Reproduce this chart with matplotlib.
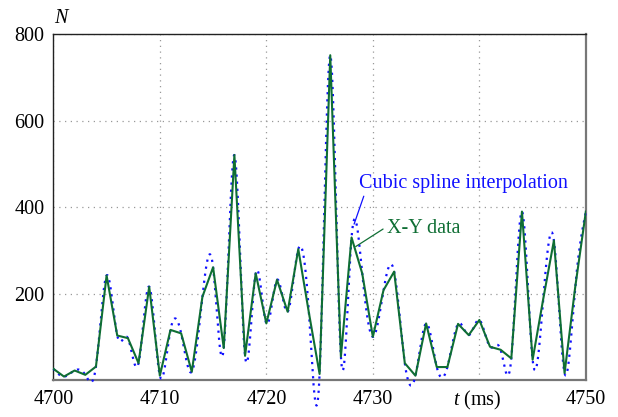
import matplotlib
matplotlib.use('Agg')
import matplotlib.pyplot as plt
import numpy as np

# sample times (ms) and counts N
t_ms = np.arange(4700, 4751)
counts = np.array([
    26, 8, 22, 12, 31, 242, 103, 97, 39, 216,
    10, 116, 108, 19, 193, 261, 74, 521, 56, 247,
    131, 232, 158, 303, 155, 14, 752, 54, 330, 247,
    100, 208, 251, 39, 10, 131, 30, 30, 130, 104,
    139, 77, 70, 50, 390, 47, 188, 323, 16, 215,
    390], dtype=float)

x_ticks = [4700, 4710, 4720, 4730, 4740, 4750]
# the 4740 slot is taken by the axis title in the original
x_labels = ['4700', '4710', '4720', '4730', '', '4750']
y_ticks = [200, 400, 600, 800]

green = '#0f6e34'
blue = '#1010ff'
fs = 14.5


def natural_spline(x, y, xs):
    # plain natural cubic spline, solved as a small linear system
    n = len(x)
    h = np.diff(x)
    A = np.zeros((n, n))
    r = np.zeros(n)
    A[0, 0] = A[-1, -1] = 1
    for i in range(1, n - 1):
        A[i, i - 1] = h[i - 1]
        A[i, i] = 2 * (h[i - 1] + h[i])
        A[i, i + 1] = h[i]
        r[i] = 3 * ((y[i + 1] - y[i]) / h[i] - (y[i] - y[i - 1]) / h[i - 1])
    c = np.linalg.solve(A, r)
    b = (y[1:] - y[:-1]) / h - h * (2 * c[:-1] + c[1:]) / 3
    d = (c[1:] - c[:-1]) / (3 * h)
    idx = np.clip(np.searchsorted(x, xs) - 1, 0, n - 2)
    dx = xs - x[idx]
    return y[idx] + b[idx] * dx + c[idx] * dx ** 2 + d[idx] * dx ** 3


plt.rcParams['font.family'] = ['Liberation Serif', 'DejaVu Serif']
plt.rcParams['mathtext.fontset'] = 'custom'
plt.rcParams['mathtext.it'] = 'Liberation Serif:italic'

fig = plt.figure(figsize=(6.18, 4.17), dpi=100)
ax = fig.add_axes([0.0863, 0.0887, 0.8617, 0.8286])

t_fine = np.linspace(t_ms[0], t_ms[-1], 2000)
spline = natural_spline(t_ms.astype(float), counts, t_fine)

ax.plot(t_fine, spline, color=blue, lw=1.6, linestyle=(0, (1, 2.2)),
        clip_on=False, zorder=3)
ax.plot(t_ms, counts, color=green, lw=1.5, zorder=4)

ax.set_xlim(4700, 4750)
ax.set_ylim(0, 800)
ax.set_xticks(x_ticks)
ax.set_xticklabels(x_labels)
ax.set_yticks(y_ticks)
ax.tick_params(length=0, labelsize=fs)
ax.tick_params(axis='x', pad=7.5)
ax.tick_params(axis='y', pad=6.5)
ax.grid(True, color='#999999', linestyle=(0, (1, 3.6)), lw=0.9)

for side in ['top', 'left']:
    ax.spines[side].set_color('#222222')
    ax.spines[side].set_linewidth(1.0)
for side in ['bottom', 'right']:
    ax.spines[side].set_color('#777777')
    ax.spines[side].set_linewidth(1.6)

ax.text(0.002, 1.032, 'N', transform=ax.transAxes, fontsize=fs,
        style='italic', ha='left', va='baseline')
# axis title sits on the same row as the tick labels
ax.text(4739.8, -58, r'$t$ (ms)', fontsize=fs, ha='center', va='baseline')

ax.annotate('Cubic spline interpolation', xy=(4728.24, 361), xytext=(4728.68, 454),
            color=blue, fontsize=fs, ha='left', va='center',
            arrowprops=dict(arrowstyle='-', color=blue, lw=0.9,
                            shrinkA=0, shrinkB=0, relpos=(0.03, 0.05)))
ax.annotate('X-Y data', xy=(4728.39, 309), xytext=(4731.33, 351),
            color=green, fontsize=fs, ha='left', va='center',
            arrowprops=dict(arrowstyle='-', color=green, lw=0.9,
                            shrinkA=1, shrinkB=0, relpos=(0.0, 0.6)))

fig.savefig('out.png', dpi=100)
